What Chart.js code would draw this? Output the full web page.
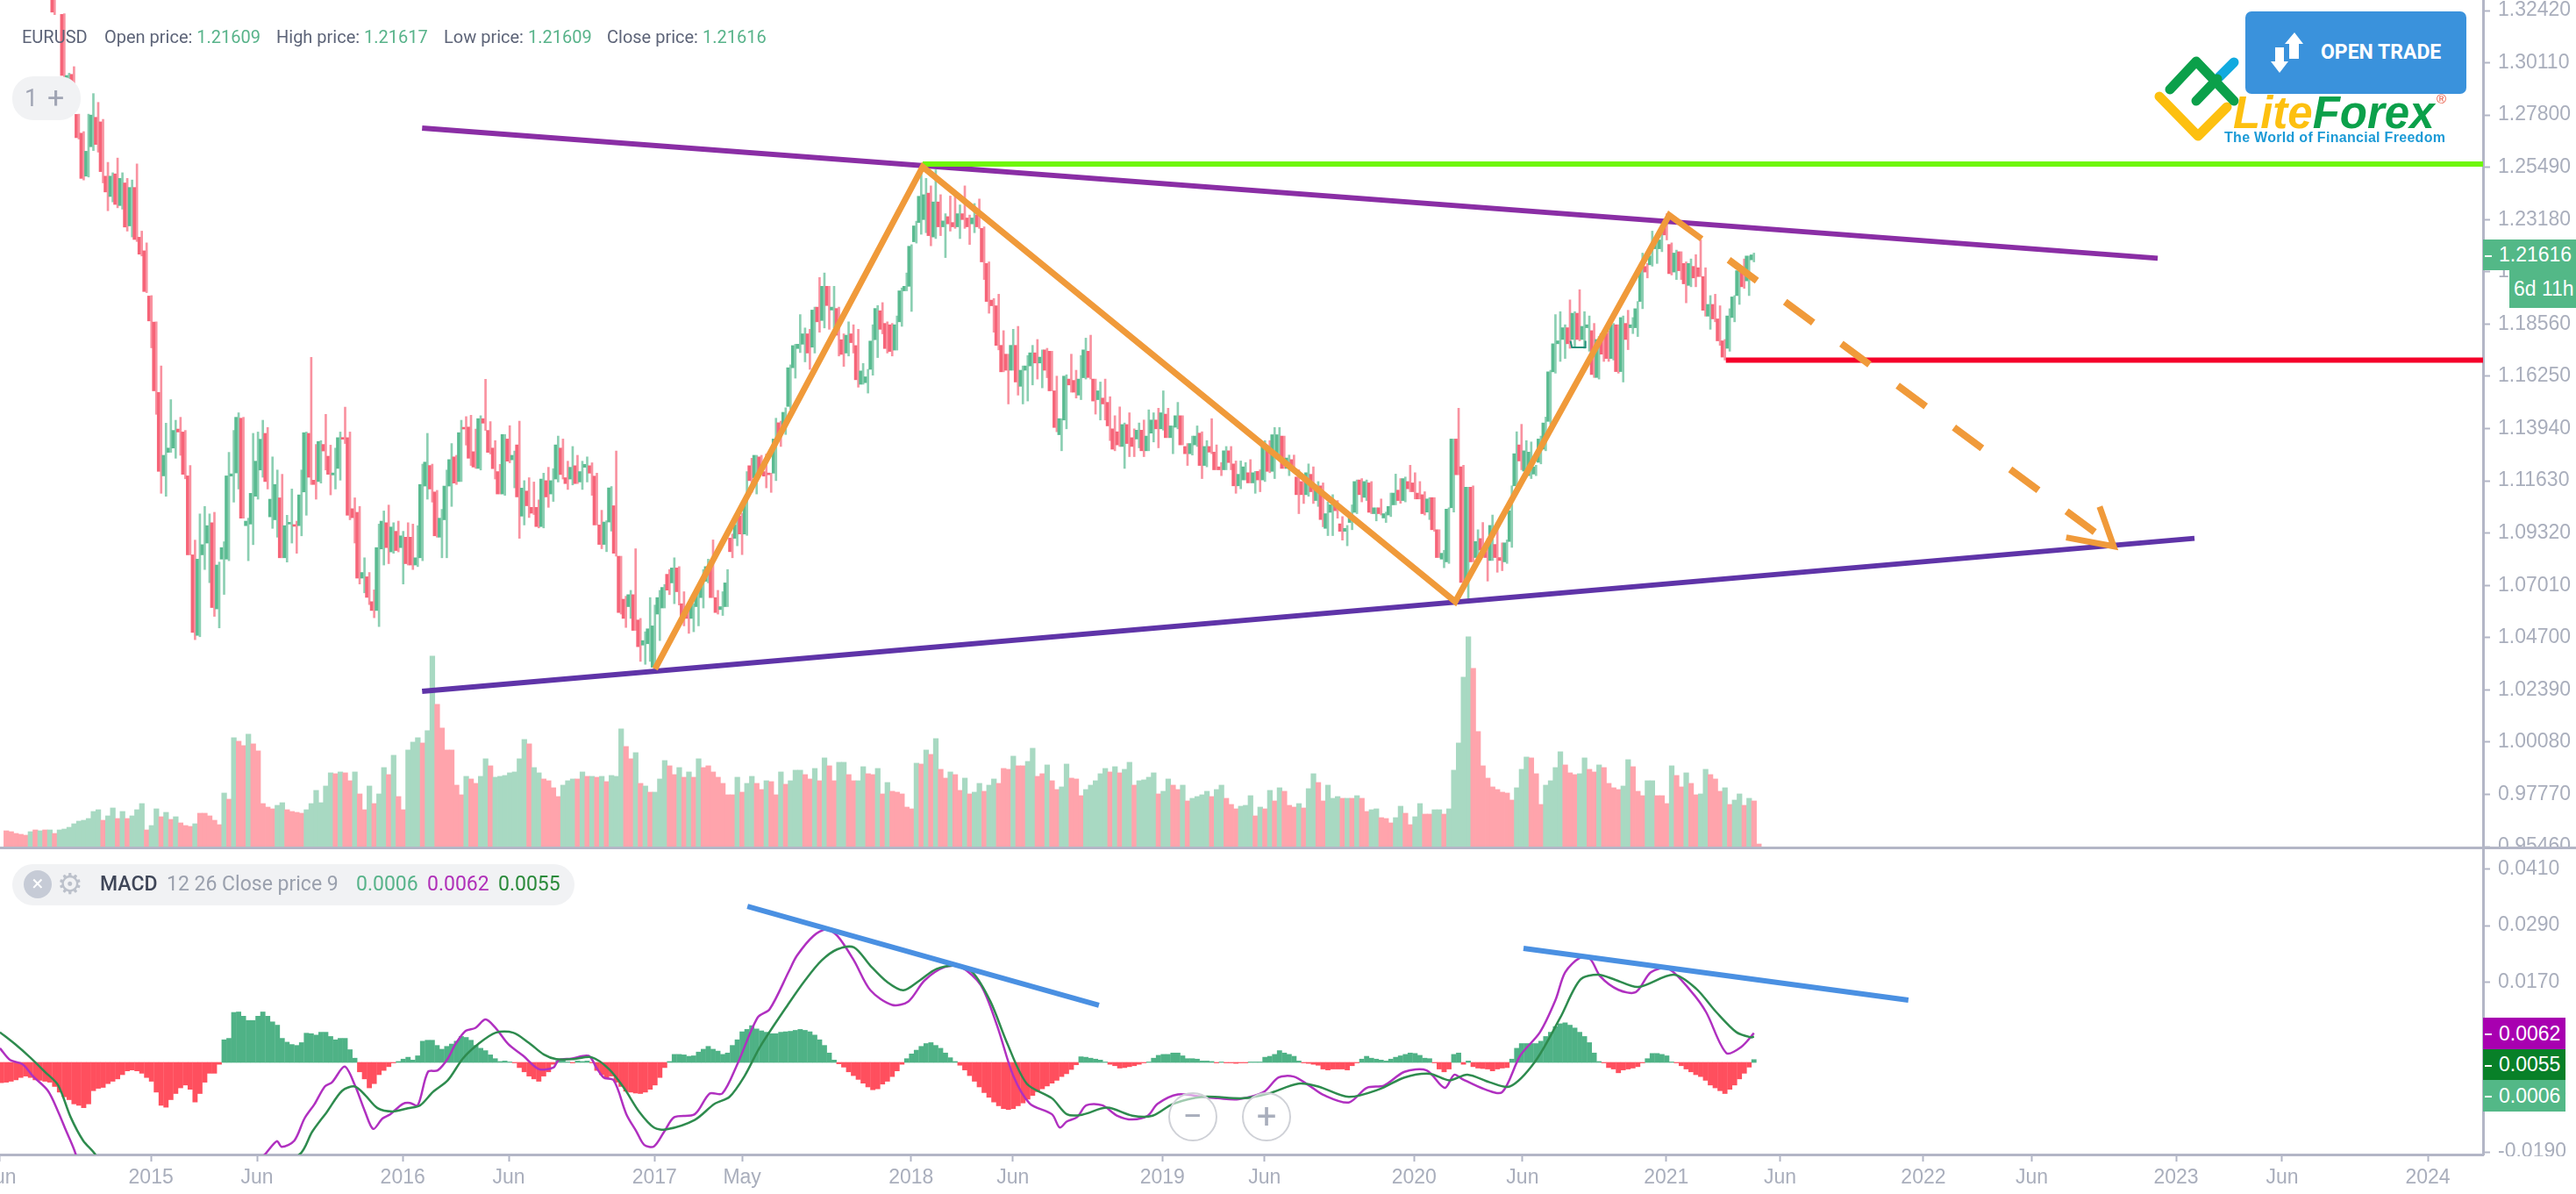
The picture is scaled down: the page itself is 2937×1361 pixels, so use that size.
<!DOCTYPE html>
<html lang="en">
<head>
<meta charset="UTF-8" />
<title>EURUSD weekly</title>
<script src="https://cdn.jsdelivr.net/npm/chart.js@4/dist/chart.umd.min.js"></script>
<style>
    html, body { margin: 0; padding: 0; background: #fff; overflow: hidden; }
    body { position: relative; width: 2937px; height: 1361px; font-family: Roboto, sans-serif; }
    canvas { position: absolute; left: 0; }
    .abs { position: absolute; white-space: nowrap; }
    .head { top: 29px; font-size: 20px; line-height: 26px; color: #5d6478; }
    .val { color: #58b38a; }
    .pill { background: #f1f2f4; border-radius: 24px; }
    .macd { top: 994px; font-size: 23px; line-height: 28px; }
    .tag { color: #fff; font-family: "Liberation Sans", sans-serif; font-size: 23px; box-sizing: border-box; padding-left: 18px; }
    .tag::before { content: ""; position: absolute; left: 2px; top: 50%; width: 8px; height: 2px; background: #fff; }
    .zoomBtn { width: 56px; height: 56px; border-radius: 50%; border: 2px solid #cfd1d7; background: rgba(255,255,255,.55); color: #a9aebc; font-size: 40px; line-height: 52px; text-align: center; box-sizing: border-box; }
</style>
</head>
<body>
<canvas id="priceChart" width="2937" height="967" style="top:0"></canvas>
<canvas id="macdChart" width="2937" height="395" style="top:966px"></canvas>

<div class="abs" style="left:0;top:965px;width:2937px;height:3px;background:#b3b6c6"></div>
<div class="abs" style="left:2834px;top:1318px;width:103px;height:43px;background:#fff"></div>

<div class="abs head" style="left:25px">EURUSD</div>
<div class="abs head" style="left:119px">Open price: <span class="val">1.21609</span></div>
<div class="abs head" style="left:315px">High price: <span class="val">1.21617</span></div>
<div class="abs head" style="left:506px">Low price: <span class="val">1.21609</span></div>
<div class="abs head" style="left:692px">Close price: <span class="val">1.21616</span></div>

<div class="abs pill" style="left:14px;top:87px;width:78px;height:50px"></div>
<div class="abs" style="left:28px;top:95px;font-size:27px;line-height:34px;color:#a0a5b4">1</div>
<div class="abs" style="left:54px;top:91px;font-size:34px;line-height:40px;color:#a0a5b4">+</div>

<div class="abs pill" style="left:14px;top:985px;width:641px;height:47px"></div>
<div class="abs" style="left:27px;top:992px;width:32px;height:32px;border-radius:50%;background:#c6cbd6;color:#fff;font-size:24px;line-height:31px;text-align:center">×</div>
<div class="abs" style="left:65px;top:988px;font-family:'DejaVu Sans';font-size:33px;line-height:40px;color:#bcc1cb">⚙</div>
<div class="abs macd" style="left:114px;color:#3f4658;font-weight:500">MACD</div>
<div class="abs macd" style="left:190px;color:#9aa0ad">12 26 Close price 9</div>
<div class="abs macd" style="left:406px;color:#58b38a">0.0006</div>
<div class="abs macd" style="left:487px;color:#b030b8">0.0062</div>
<div class="abs macd" style="left:568px;color:#2a8a3a">0.0055</div>

<div class="abs zoomBtn" style="left:1332px;top:1245px">−</div>
<div class="abs zoomBtn" style="left:1416px;top:1245px">+</div>

<div class="abs tag" style="left:2831px;top:273px;width:106px;height:35px;background:#53b887;line-height:35px">1.21616</div>
<div class="abs" style="left:2861px;top:308px;width:76px;height:43px;background:#53b887;color:#fff;font-family:'Liberation Sans';font-size:23px;line-height:43px;padding-left:5px;box-sizing:border-box">6d 11h</div>
<div class="abs tag" style="left:2831px;top:1160px;width:94px;height:36px;background:#a800b0;line-height:36px">0.0062</div>
<div class="abs tag" style="left:2831px;top:1196px;width:94px;height:35px;background:#088028;line-height:35px">0.0055</div>
<div class="abs tag" style="left:2831px;top:1231px;width:94px;height:36px;background:#53b887;line-height:36px">0.0006</div>

<div class="abs" style="left:2560px;top:13px;width:252px;height:94px;background:#3a92dc;border-radius:7px"></div>
<div class="abs" style="left:2646px;top:46px;color:#fff;font-size:23px;line-height:28px;font-weight:700">OPEN TRADE</div>
<svg class="abs" style="left:2450px;top:30px" width="190" height="135" viewBox="2450 30 190 135">
    <polygon fill="#fff" points="2616,37 2626,50 2621,50 2621,67 2610,67 2610,50 2605,50"/>
    <polygon fill="#fff" points="2599,83 2589,70 2594,70 2594,54 2604,54 2604,70 2609,70"/>
    <g fill="none" stroke-width="11" stroke-linecap="round" stroke-linejoin="round">
        <polyline stroke="#fdc010" points="2462,110 2506,155 2539,122"/>
        <polyline stroke="#12aadf" points="2530,88 2547,71"/>
        <polyline stroke="#0ba04a" points="2474,102 2504,70 2547,115"/>
        <polyline stroke="#0ba04a" points="2504,115 2528,90"/>
    </g>
</svg>
<div class="abs" style="left:2546px;top:100px;font-family:'Liberation Sans';font-style:italic;font-weight:700;font-size:51px;line-height:58px;color:#fdc010">Lite<span style="color:#0ba04a">Forex</span></div>
<div class="abs" style="left:2778px;top:104px;font-family:'Liberation Sans';font-size:15px;line-height:18px;color:#e8503a">®</div>
<div class="abs" style="left:2536px;top:148px;font-family:'Liberation Sans';font-weight:700;font-size:16px;line-height:18px;letter-spacing:.3px;color:#1b9ad6">The World of Financial Freedom</div>

<script>
// weekly bars, x is the bar number, ticks fall between bars
const xTicks = [-1.3, 29.9, 51.8, 81.9, 103.8, 133.9, 152, 186.9, 207.9, 238.8, 259.9, 290.8, 313.2, 342.9, 366.4, 396, 418.4, 448.2, 470.1, 500.2];
const xLabels = ['Jun', '2015', 'Jun', '2016', 'Jun', '2017', 'May', '2018', 'Jun', '2019', 'Jun', '2020', 'Jun', '2021', 'Jun', '2022', 'Jun', '2023', 'Jun', '2024'];
const priceTicks = [1.3242, 1.3011, 1.278, 1.2549, 1.2318, 1.2087, 1.1856, 1.1625, 1.1394, 1.1163, 1.0932, 1.0701, 1.047, 1.0239, 1.0008, 0.9777, 0.9546];
const macdTicks = [0.041, 0.029, 0.017, 0.005, -0.007, -0.019];

// open, high, low, close
const candles = [
    [1.342,1.344,1.337,1.339],[1.339,1.341,1.336,1.337],[1.337,1.339,1.334,1.335],[1.336,1.338,1.334,1.335],[1.335,1.338,1.334,1.337],
    [1.338,1.339,1.335,1.336],[1.336,1.338,1.335,1.337],[1.337,1.338,1.335,1.336],[1.336,1.338,1.335,1.337],[1.336,1.337,1.333,1.334],
    [1.33,1.333,1.3224,1.3235],[1.3345,1.336,1.33,1.331],[1.3225,1.3228,1.294,1.2955],[1.2945,1.2965,1.294,1.2955],[1.296,1.2994,1.284,1.286],
    [1.2783,1.2784,1.2674,1.268],[1.27,1.2707,1.2493,1.25],[1.251,1.2784,1.2506,1.262],[1.264,1.2875,1.2623,1.278],[1.277,1.2836,1.2616,1.265],
    [1.275,1.2761,1.248,1.253],[1.251,1.2571,1.2357,1.244],[1.242,1.2525,1.2396,1.251],[1.252,1.259,1.237,1.2385],[1.238,1.2525,1.2364,1.25],
    [1.248,1.25,1.2267,1.2285],[1.229,1.2493,1.2241,1.246],[1.246,1.2564,1.2221,1.223],[1.224,1.2267,1.2157,1.2165],[1.218,1.2215,1.1995,1.2],
    [1.198,1.1982,1.1751,1.187],[1.1865,1.1866,1.1457,1.1561],[1.1554,1.1671,1.1108,1.1205],[1.1185,1.1418,1.1095,1.1276],[1.1289,1.1522,1.1289,1.1308],
    [1.1308,1.1431,1.1263,1.1386],[1.1392,1.1444,1.1276,1.1379],[1.1379,1.1386,1.1172,1.1192],[1.1185,1.1231,1.0836,1.0836],[1.0836,1.0901,1.0461,1.0493],
    [1.048,1.1017,1.0474,1.0817],[1.0836,1.105,1.0771,1.0881],[1.0888,1.1017,1.0713,1.0965],[1.0978,1.1024,1.0564,1.0603],[1.0597,1.0804,1.0513,1.0791],
    [1.0817,1.0894,1.0661,1.0868],[1.0817,1.1289,1.081,1.1185],[1.1184,1.1386,1.1069,1.1194],[1.1198,1.1464,1.1127,1.1444],[1.144,1.1444,1.0998,1.0998],
    [1.0965,1.0998,1.081,1.0985],[1.0972,1.1373,1.0881,1.1108],[1.1095,1.1379,1.1082,1.125],[1.1211,1.1431,1.1179,1.1347],[1.1373,1.1399,1.1127,1.116],
    [1.1004,1.1269,1.0953,1.1082],[1.0991,1.1211,1.0914,1.1147],[1.1088,1.1192,1.0823,1.0823],[1.0823,1.1011,1.0804,1.0965],[1.0972,1.1127,1.0888,1.0975],
    [1.0965,1.0985,1.0843,1.0962],[1.0965,1.1211,1.092,1.1101],[1.1114,1.1379,1.1011,1.1376],[1.1373,1.1709,1.1147,1.1179],[1.1166,1.1324,1.1082,1.1147],
    [1.116,1.1341,1.1153,1.1337],[1.1324,1.1457,1.1211,1.1295],[1.1272,1.1321,1.1101,1.1192],[1.1189,1.1308,1.1127,1.1198],[1.1218,1.1379,1.1166,1.1354],
    [1.1354,1.1489,1.1328,1.1347],[1.1354,1.1379,1.0991,1.1011],[1.104,1.1088,1.0888,1.1],[1.1024,1.105,1.0707,1.0733],[1.0733,1.0823,1.0668,1.0758],
    [1.0739,1.0758,1.0616,1.0648],[1.0629,1.0681,1.0558,1.059],[1.059,1.0972,1.0519,1.0868],[1.0862,1.103,1.0791,1.0985],[1.0978,1.1056,1.0797,1.0868],
    [1.0849,1.0978,1.0843,1.0959],[1.094,1.0985,1.0849,1.0855],[1.0868,1.094,1.0707,1.092],[1.0914,1.0978,1.0791,1.0797],[1.0914,1.0972,1.0771,1.0791],
    [1.0791,1.0965,1.0784,1.0823],[1.0823,1.1237,1.081,1.1147],[1.114,1.1373,1.1082,1.1246],[1.1231,1.1237,1.1069,1.1127],[1.1114,1.1121,1.0914,1.092],
    [1.0914,1.1037,1.0823,1.0998],[1.0991,1.1211,1.0823,1.114],[1.114,1.1328,1.105,1.1257],[1.1269,1.1276,1.1147,1.1153],[1.116,1.1431,1.116,1.1376],
    [1.1399,1.1447,1.1321,1.1392],[1.1401,1.1453,1.1231,1.1263],[1.1292,1.1392,1.1218,1.1224],[1.1218,1.1451,1.1211,1.1438],[1.1438,1.1612,1.1386,1.1418],
    [1.1386,1.1425,1.1282,1.1289],[1.1308,1.1341,1.1171,1.1217],[1.1204,1.1236,1.1105,1.1105],[1.1105,1.1368,1.1099,1.1368],[1.1348,1.1407,1.1243,1.125],
    [1.1256,1.1295,1.1132,1.1276],[1.1322,1.1427,1.0909,1.1092],[1.1007,1.1164,1.0968,1.1131],[1.1118,1.1177,1.1001,1.1053],[1.1046,1.1158,1.1014,1.102],
    [1.1046,1.1079,1.0955,1.0961],[1.0961,1.1197,1.0955,1.1171],[1.1164,1.1223,1.1046,1.1092],[1.1105,1.1217,1.1072,1.1164],[1.1171,1.1361,1.1158,1.1322],
    [1.1308,1.1348,1.1171,1.1191],[1.1177,1.125,1.1125,1.1151],[1.1171,1.1315,1.1145,1.1223],[1.123,1.1276,1.1151,1.1151],[1.1158,1.125,1.1125,1.1204],
    [1.1223,1.1269,1.1158,1.1236],[1.123,1.1243,1.1099,1.1197],[1.1184,1.1197,1.0968,1.0968],[1.0968,1.1033,1.0863,1.0882],[1.0882,1.0987,1.085,1.0981],
    [1.0981,1.1138,1.0941,1.1132],[1.1053,1.1295,1.083,1.0843],[1.083,1.083,1.0574,1.0581],[1.064,1.0653,1.0515,1.0555],[1.0607,1.0679,1.0555,1.066],
    [1.066,1.0863,1.0502,1.0502],[1.0548,1.0555,1.0365,1.043],[1.0437,1.0496,1.0352,1.0457],[1.0443,1.0647,1.0365,1.0509],[1.0339,1.0614,1.0339,1.0522],
    [1.0574,1.0679,1.0457,1.0647],[1.0601,1.0705,1.0601,1.0692],[1.075,1.0771,1.066,1.068],[1.0712,1.0823,1.062,1.0778],[1.0778,1.0784,1.0614,1.0673],
    [1.062,1.0673,1.0522,1.0555],[1.0607,1.0614,1.0489,1.0555],[1.0555,1.062,1.0496,1.0614],[1.0607,1.0666,1.0522,1.066],[1.0647,1.0771,1.0601,1.0712],
    [1.0719,1.0817,1.0712,1.0784],[1.0784,1.0902,1.0647,1.0647],[1.0647,1.0679,1.0574,1.0581],[1.0594,1.0673,1.0568,1.0607],[1.0607,1.0771,1.0607,1.0712],
    [1.091,1.0928,1.0823,1.085],[1.0909,1.1007,1.0876,1.0968],[1.1007,1.102,1.0837,1.0928],[1.0928,1.1204,1.0922,1.1059],[1.123,1.1263,1.1112,1.1164],
    [1.1177,1.1276,1.1105,1.1276],[1.1269,1.1276,1.1191,1.1204],[1.1204,1.1282,1.1132,1.1184],[1.1197,1.1197,1.1112,1.119],[1.1197,1.144,1.1164,1.1348],
    [1.142,1.1427,1.1315,1.1361],[1.14,1.1486,1.1368,1.1466],[1.1492,1.1676,1.1479,1.1663],[1.1663,1.1767,1.1617,1.1761],[1.1748,1.1898,1.173,1.1767],
    [1.1767,1.1839,1.1689,1.1813],[1.1813,1.1833,1.1656,1.1728],[1.1754,1.1931,1.1728,1.1918],[1.1931,1.2062,1.182,1.1866],[1.1872,1.2082,1.1839,1.2023],
    [1.2023,1.2023,1.1833,1.1938],[1.1918,1.2023,1.1839,1.1931],[1.1925,1.1931,1.1715,1.1807],[1.1787,1.1813,1.1669,1.1722],[1.1728,1.1866,1.1715,1.1807],
    [1.1813,1.1853,1.1728,1.1774],[1.1761,1.1833,1.1577,1.161],[1.159,1.1682,1.159,1.1649],[1.1597,1.1656,1.1551,1.1623],[1.1656,1.1853,1.163,1.1781],
    [1.1787,1.1938,1.1708,1.1925],[1.1915,1.1951,1.1813,1.1833],[1.1859,1.1866,1.1728,1.1748],[1.1853,1.1859,1.1715,1.1735],[1.1741,1.1892,1.1741,1.1853],
    [1.1866,1.2016,1.1846,1.2003],[1.2003,1.2082,1.2003,1.2023],[1.2023,1.2207,1.1912,1.22],[1.222,1.2311,1.2214,1.229],[1.2305,1.2538,1.2253,1.2421],
    [1.2318,1.25,1.226,1.2428],[1.2435,1.2467,1.2202,1.2247],[1.2241,1.2538,1.2234,1.2396],[1.2396,1.2428,1.2247,1.2286],[1.2286,1.2344,1.215,1.2312],
    [1.2331,1.2422,1.2267,1.2299],[1.2305,1.2422,1.2279,1.2286],[1.2286,1.2383,1.2234,1.2344],[1.2344,1.2467,1.2279,1.2318],[1.2325,1.2338,1.2208,1.2286],
    [1.2299,1.2389,1.226,1.2325],[1.2338,1.2409,1.2279,1.2286],[1.2279,1.2286,1.2053,1.2131],[1.2124,1.2131,1.1904,1.1956],[1.1962,1.1969,1.182,1.1937],
    [1.1937,1.1988,1.1742,1.1762],[1.1762,1.1827,1.1645,1.1645],[1.1723,1.1723,1.1503,1.1652],[1.1652,1.1833,1.1652,1.1762],[1.1762,1.1846,1.1542,1.16],
    [1.1581,1.1671,1.1503,1.1652],[1.1652,1.1717,1.1516,1.1671],[1.1671,1.1762,1.1587,1.1729],[1.1729,1.1788,1.1613,1.1684],[1.1684,1.1742,1.1574,1.171],
    [1.1742,1.1749,1.1619,1.1652],[1.1736,1.1736,1.1561,1.1561],[1.1561,1.1626,1.138,1.1399],[1.1367,1.1438,1.1296,1.1438],[1.1432,1.1632,1.1393,1.1626],
    [1.1613,1.1723,1.1555,1.1587],[1.1607,1.1652,1.1529,1.1555],[1.1542,1.1717,1.1522,1.1613],[1.1619,1.1794,1.1613,1.1742],[1.1736,1.1807,1.1613,1.162],
    [1.1613,1.1613,1.1458,1.1516],[1.1522,1.16,1.1432,1.1561],[1.1529,1.1613,1.1432,1.1503],[1.151,1.1535,1.1341,1.1406],[1.1393,1.1451,1.1296,1.1303],
    [1.138,1.149,1.1315,1.1322],[1.1315,1.1419,1.1218,1.1412],[1.1412,1.1464,1.127,1.1328],[1.1354,1.1393,1.127,1.1315],[1.1348,1.1419,1.1309,1.1387],
    [1.1387,1.1432,1.127,1.1296],[1.1296,1.1477,1.1296,1.1361],[1.1374,1.1464,1.1335,1.1432],[1.1432,1.1484,1.1309,1.1393],[1.1393,1.1561,1.1387,1.1464],
    [1.1458,1.1484,1.1354,1.1354],[1.1354,1.1406,1.1283,1.1406],[1.14,1.151,1.1393,1.1451],[1.1451,1.1451,1.1322,1.1322],[1.1315,1.1328,1.1231,1.1283],
    [1.1283,1.1361,1.1277,1.1328],[1.1322,1.1406,1.1315,1.1361],[1.1374,1.138,1.1173,1.1231],[1.1231,1.1341,1.1225,1.1315],[1.1315,1.1438,1.1283,1.129],
    [1.129,1.1322,1.1212,1.1212],[1.1225,1.1244,1.1186,1.1212],[1.1212,1.1315,1.1212,1.1296],[1.1296,1.1315,1.1212,1.1244],[1.1238,1.1251,1.1108,1.1141],
    [1.1141,1.1251,1.1128,1.1192],[1.1167,1.1244,1.1167,1.1225],[1.1199,1.1257,1.1154,1.1154],[1.1154,1.1205,1.1108,1.1199],[1.1205,1.1212,1.1115,1.1167],
    [1.1167,1.1341,1.116,1.1335],[1.1296,1.1341,1.1199,1.1205],[1.1205,1.1399,1.1173,1.1367],[1.127,1.1399,1.1264,1.1367],[1.1361,1.1361,1.1218,1.1218],
    [1.1218,1.1277,1.1186,1.1264],[1.1257,1.1277,1.1199,1.1212],[1.118,1.1212,1.1018,1.1102],[1.116,1.1167,1.1063,1.1102],[1.1102,1.1238,1.1095,1.1199],
    [1.1192,1.1225,1.1063,1.1115],[1.1076,1.116,1.105,1.1141],[1.1141,1.1154,1.096,1.0992],[1.0953,1.107,1.0921,1.1018],[1.1024,1.1102,1.0921,1.1057],
    [1.1063,1.1076,1.0998,1.1031],[1.0973,1.1005,1.0901,1.094],[1.094,1.0966,1.0876,1.0953],[1.0979,1.1057,1.0947,1.1018],[1.1024,1.1167,1.1018,1.116],
    [1.1167,1.1173,1.107,1.1102],[1.109,1.1167,1.1076,1.116],[1.1154,1.116,1.1018,1.1024],[1.1018,1.1044,1.0986,1.1044],[1.1044,1.1083,1.1012,1.1018],
    [1.0999,1.1025,1.0979,1.1018],[1.1012,1.1109,1.1005,1.105],[1.1057,1.1193,1.1057,1.1109],[1.1122,1.1173,1.1064,1.1076],[1.1076,1.118,1.107,1.1173],
    [1.116,1.1232,1.1115,1.1128],[1.1154,1.1199,1.1083,1.1115],[1.1109,1.116,1.1083,1.1083],[1.1102,1.1115,1.1012,1.1018],[1.1025,1.1089,1.0992,1.1083],
    [1.1089,1.1089,1.094,1.0947],[1.0947,1.0947,1.0824,1.0824],[1.0817,1.0856,1.0779,1.0843],[1.0805,1.1044,1.0798,1.1038],[1.1044,1.1348,1.1025,1.1348],
    [1.1348,1.1484,1.119,1.119],[1.1225,1.1232,1.0714,1.0714],[1.0701,1.1135,1.0643,1.1135],[1.1135,1.1141,1.0805,1.0805],[1.0824,1.0947,1.0798,1.0895],
    [1.0908,1.0979,1.085,1.0857],[1.085,1.0908,1.072,1.0824],[1.0811,1.1012,1.0811,1.0966],[1.0882,1.0953,1.0759,1.0824],[1.0824,1.0889,1.0766,1.0811],
    [1.0805,1.0902,1.0798,1.0889],[1.0895,1.1141,1.0869,1.1031],[1.1141,1.138,1.1128,1.1283],[1.1322,1.1413,1.1212,1.1251],[1.1206,1.1341,1.118,1.1296],
    [1.1186,1.1335,1.1173,1.129],[1.1193,1.1232,1.1186,1.1225],[1.1245,1.1361,1.1238,1.1348],[1.1303,1.1445,1.1296,1.1419],[1.1426,1.1652,1.1413,1.1645],
    [1.1645,1.1898,1.1639,1.1769],[1.1769,1.1911,1.1691,1.1782],[1.1788,1.1853,1.1704,1.184],[1.184,1.1963,1.1749,1.1769],[1.1788,1.1911,1.1756,1.1904],
    [1.1904,1.2008,1.1782,1.1788],[1.1788,1.1911,1.1749,1.1846],[1.184,1.1892,1.1736,1.1853],[1.1827,1.1859,1.162,1.1633],[1.162,1.1801,1.1613,1.1788],
    [1.1814,1.1827,1.1691,1.1723],[1.1814,1.1827,1.1691,1.1704],[1.1704,1.1859,1.1697,1.1853],[1.1853,1.1853,1.1639,1.1646],[1.1646,1.1892,1.16,1.1885],
    [1.1859,1.1917,1.1743,1.1788],[1.184,1.1885,1.1814,1.1853],[1.184,1.1956,1.1801,1.1924],[1.1956,1.217,1.1924,1.2092],[1.2111,1.2124,1.206,1.2086],
    [1.2118,1.2267,1.2112,1.2157],[1.2189,1.2241,1.2124,1.2221],[1.2189,1.2267,1.2176,1.2228],[1.232,1.2344,1.2228,1.225],[1.2208,1.2215,1.2073,1.2079],
    [1.2086,1.2183,1.2053,1.217],[1.2176,1.2176,1.2053,1.2092],[1.2124,1.2131,1.195,1.2034],[1.2027,1.2144,1.2021,1.2124],[1.2111,1.2163,1.2021,1.206],
    [1.2105,1.2228,1.2066,1.2066],[1.2066,1.2105,1.1891,1.1917],[1.1891,1.1982,1.1833,1.1943],[1.1943,1.1988,1.1866,1.1879],[1.1879,1.1937,1.1762,1.1782],
    [1.1782,1.1788,1.1697,1.171],[1.1749,1.1924,1.1736,1.1892],[1.1885,1.1982,1.1866,1.1976],[1.1982,1.2099,1.1943,1.2092],[1.2086,1.2144,1.2014,1.2021],
    [1.2047,1.2157,1.1982,1.2157],[1.214,1.217,1.2131,1.2162]
];

// tick volume per week, negative means a down bar, first entry sits at the left edge
const volumes = [
    -20,-19,-17,-16,-15,19,-21,20,-21,21,-17, 21,22,24,28,31,32,34,42,44,-32,
    37,46,-34,42,-34,37,44,51,-21,26, 45,-36,41,-33,36,-29,-26,-25,28,-40,
    -40,-37,-32,-27,63,-56,126,-122,-117,130, -119,-111,-51,-47,-45,49,52,-44,-42,-41,
    -40,44,51,66,52,71,86,-85,87,-86, -77,87,-62,-44,71,-51,62,92,-84,106,
    -59,-44,112,121,126,-120,134,219,-164,-137, -112,-112,-72,-61,82,-79,-74,82,102,-94,
    81,82,83,86,87,102,124,-119,92,86, -79,-77,-69,-59,72,77,79,-79,87,-82,
    82,-81,82,-76,83,82,136,-116,-102,109, -74,71,-64,64,79,100,-94,-84,92,-81,
    87,-81,102,-92,-94,-87,-81,-74,-61,-61, 81,-64,74,82,-74,-67,77,-76,-61,87,
    -73,77,89,89,-84,-79,91,-77,103,-94, -77,98,98,-84,-77,77,93,-85,-84,91,
    -62,75,-65,-64,-62,-47,-45,97,-96,112, -107,125,-90,-80,87,-84,-66,80,-62,64,
    74,-65,72,79,-74,-91,-90,105,-94,-94, 99,114,-82,-85,95,-77,-67,70,96,-80,
    -79,-60,67,72,77,85,91,-87,93,-86, 90,98,-72,77,78,81,86,-62,65,79,
    -72,-67,72,-54,57,59,61,65,-59,67, 72,-57,-50,-45,48,49,60,-37,47,-45,
    66,-54,69,-65,-49,-47,51,-46,68,85, -75,-54,72,57,59,-57,57,-57,60,-57,
    -42,44,45,-35,-34,-29,35,48,-40,-27, 36,51,-39,-39,44,44,-39,45,89,120,
    195,241,-205,-133,-94,-80,-70,-67,-64,-63, -55,69,90,104,-103,-85,-50,72,77,92,
    110,-95,-86,-84,85,103,-90,-87,95,-92, -74,-69,-67,71,101,-93,-65,-60,77,77,
    -60,-60,-51,94,-83,-70,86,-74,-61,62, 90,-84,-79,-65,69,-50,55,62,-49,57,
    -54,-5
];

const macdHist = [
    -.0043,-.0042,-.004,-.0037,-.0032,-.0029,-.0032,-.0037,-.0038,-.004,-.0042, -.0051,-.0063,-.0073,-.0079,-.0088,-.0091,-.0096,-.0088,-.006,-.0055,
    -.0053,-.0045,-.004,-.0035,-.0026,-.0018,-.0016,-.0018,-.0023,-.0032, -.004,-.0063,-.0091,-.0095,-.0079,-.0066,-.0054,-.0048,-.0057,-.0084,
    -.0066,-.0042,-.0023,-.0023,-.0004,.0048,.0051,.0106,.0107,.0098, .0089,.0089,.0098,.0107,.0098,.0086,.0079,.0051,.0043,.0038,
    .0036,.0042,.0062,.0061,.0058,.0064,.0064,.0055,.0048,.0051, .0051,.0027,.0009,-.002,-.0035,-.0054,-.0045,-.0026,-.0017,-.0009,
    -.0001,.0002,.0007,.0011,.0005,.0014,.0045,.0047,.0047,.0036, .0028,.0034,.0039,.0045,.0055,.0053,.0047,.0036,.003,.0025,
    .0016,.0008,.0002,.0003,.0001,-.0001,-.0011,-.002,-.0029,-.0035, -.004,-.0029,-.002,-.0004,.0004,.0007,.0001,-.0001,.0003,.0002,
    .0003,-.0001,-.0017,-.0026,-.0035,-.0029,-.0042,-.0051,-.0061,-.0063, -.0065,-.0066,-.0063,-.0057,-.0048,-.0032,-.0011,.0002,.0017,.0017,
    .0016,.0013,.0014,.0022,.0028,.0034,.0028,.0024,.0017,.002, .0036,.0048,.0065,.007,.0078,.0071,.0067,.0064,.0061,.0061,
    .0064,.0065,.0066,.0068,.007,.0068,.0065,.0058,.0048,.0036, .002,.0005,-.0003,-.001,-.002,-.0028,-.0036,-.0044,-.0052,-.0058,
    -.0056,-.0046,-.004,-.003,-.0018,-.0004,.0008,.0018,.0026,.0034, .004,.0042,.0036,.003,.002,.001,.0002,-.0006,-.0016,-.0028,
    -.004,-.0052,-.0064,-.0074,-.0084,-.0092,-.0098,-.01,-.0098,-.0092, -.0086,-.0078,-.007,-.0062,-.0056,-.005,-.0044,-.0038,-.003,-.0024,
    -.0015,-.0005,.0012,.0011,.0009,.0007,.0005,.0001,-.0004,-.0007, -.0012,-.0011,-.0009,-.0007,-.0004,-.0001,.0001,.0009,.0015,.0017,
    .0017,.002,.002,.0014,.0008,.0008,.0007,.0003,.0003,.0002, -.0001,.0001,-.0001,-.0001,-.0002,-.0001,-.0001,.0001,.0001,.0001,
    .0011,.0013,.0017,.0025,.002,.0017,.0013,.0003,-.0001,-.0002, -.0004,-.0006,-.0014,-.0016,-.0014,-.0014,-.0014,-.0016,-.0007,-.0001,
    .0007,.0013,.0009,.0007,.0005,.0003,.0007,.0011,.0014,.0017, .002,.0019,.0015,.0009,.0008,-.0001,-.0014,-.002,-.0014,.0017,
    .002,-.0004,.0003,-.0009,-.0012,-.0013,-.0014,-.0018,-.0014,-.0012, -.0011,.0007,.003,.004,.004,.004,.004,.0045,.0055,.0064,
    .0076,.0082,.0084,.0079,.0073,.0064,.0055,.0042,.002,.0002, -.0001,-.0011,-.0014,-.0022,-.0016,-.0014,-.0012,-.0009,-.0001,.0008,
    .0019,.0019,.0017,.0014,.0001,-.0001,-.0007,-.0014,-.002,-.0026, -.003,-.0038,-.0048,-.0054,-.006,-.0066,-.0057,-.0048,-.0035,-.0023,
    -.001,.0006
];

// bar number, value
const macdLine = [
    [-1.3,.003],[.8,.0005],[3.4,-.0004],[5.5,-.0029],[8.6,-.006],[10.7,-.0104],[12.2,-.0141],[14.3,-.0193],[19.5,-.0383],[29.9,-.0445],
    [53.6,-.0193],[55.9,-.0167],[56.9,-.0179],[59.5,-.0166],[61.6,-.0119],[63.7,-.0088],[65.8,-.0051],[67.3,-.0042],[69.9,-.0009],[72,-.0048],
    [74.1,-.0104],[75.8,-.0141],[77.7,-.0119],[79.3,-.011],[81.9,-.0088],[83.4,-.0086],[85,-.0091],[87.1,-.002],[89.1,-.0017],[91.2,.0008],
    [92.8,.0039],[94.9,.0067],[96.9,.0073],[99,.0091],[101.1,.0073],[103.7,.0039],[106.8,.0014],[110,-.0014],[113,-.0011],[114.1,.0005],
    [116.7,.0008],[120.3,.0014],[121.9,-.0011],[123.4,-.0032],[125.5,-.0038],[128.1,-.011],[130.2,-.0147],[131.8,-.0175],[133.8,-.0178],[135.9,-.0147],
    [138,-.0116],[142.2,-.011],[145.3,-.0066],[147.9,-.0066],[151,-.0004],[155.2,.0095],[157.7,.0113],[161.7,.0194],[163.3,.0226],[166.7,.0268],
    [169.4,.0282],[171.7,.0268],[175.1,.0216],[178.5,.0153],[183,.0122],[186.3,.0129],[189.7,.0174],[193.8,.0202],[197.2,.0202],[201.3,.0164],
    [204.7,.0077],[208,-.0028],[211.4,-.0087],[216,-.011],[217.6,-.0138],[219.1,-.0125],[221.2,-.0116],[223.1,-.0091],[226.4,-.0091],[229.5,-.0113],
    [232.6,-.0121],[235.8,-.0113],[237.8,-.0088],[242,-.0068],[247.2,-.0073],[250.3,-.0076],[254.5,-.0078],[259.7,-.0063],[262.8,-.0032],[265.9,-.003],
    [269,-.0048],[272.1,-.0069],[277.3,-.0085],[281,-.0054],[284.6,-.0049],[288.8,-.002],[293.4,-.0017],[297.1,-.0054],[299.1,-.0026],[300.7,-.0035],
    [305.4,-.0057],[309,-.0063],[312.7,.0014],[316.8,.0064],[320,.0132],[322,.0191],[325.1,.0222],[327.2,.0219],[329.3,.0182],[333,.0154],
    [336.6,.0149],[339.7,.0191],[343.3,.0199],[348,.0151],[351.1,.0107],[355.3,.002],[358.4,.0033],[361,.0062]
];
const signalLine = [
    [-1.3,.0064],[1.8,.0039],[4.9,.0011],[8,-.002],[10.7,-.0048],[13.3,-.0116],[15.9,-.0166],[18.5,-.0197],[29.9,-.0414],[60.6,-.0195],
    [63.2,-.0147],[66.3,-.0104],[69.4,-.006],[72,-.0051],[74.1,-.0069],[76.7,-.0097],[79.8,-.0104],[83,-.0097],[85.5,-.0091],[88.1,-.0063],
    [91.2,-.0038],[94.3,.0008],[97.5,.0039],[101.1,.0063],[104.7,.0063],[107.9,.0042],[111,.0017],[113.6,.0007],[117.2,.0007],[120.9,.0011],
    [124.5,-.0014],[127.6,-.0054],[130.7,-.0104],[133.8,-.0138],[136.4,-.0142],[142.2,-.0122],[146.3,-.0088],[149.4,-.0073],[152.5,-.0029],[155.7,.0033],
    [161.7,.0126],[165,.0174],[168.4,.0216],[171.7,.024],[175.1,.0244],[178.5,.0205],[181.9,.0171],[185.3,.0153],[188.7,.0174],[192.1,.0198],
    [196.2,.0205],[199.6,.0191],[203.3,.0129],[206.7,.0042],[210.8,-.0045],[216,-.0076],[219.1,-.011],[222.2,-.0111],[227.4,-.0096],[232.6,-.0113],
    [236.8,-.0113],[241,-.0088],[247.2,-.0073],[255.5,-.0076],[260.7,-.0066],[266.9,-.0045],[271,-.0051],[277.3,-.0073],[283.6,-.0057],[288.8,-.0032],
    [294,-.0024],[298.1,-.0038],[301.8,-.0026],[306.4,-.0042],[310.6,-.0051],[315.8,.0002],[321,.0095],[325.1,.0175],[328.8,.0186],[332.4,.0175],
    [337.1,.016],[344.4,.0186],[349,.0157],[353.2,.0107],[357.4,.0064],[360.5,.0053],[361,.0055]
];

// hand drawn lines on the chart, in bar number and price
const upperTrend = [[85.9,1.2722],[444.4,1.2147]];
const lowerTrend = [[85.9,1.0233],[452,1.0909]];
const orangeZigzag = [[134,1.0331],[189.3,1.2551],[299.3,1.0629],[343.5,1.2338],[350.2,1.2233]];
const orangeForecast = [[355.8,1.214],[435.3,1.0874]];
const arrowHead = [[425.5,1.0913],[435.3,1.0874],[432.4,1.1049]];
const greenLevel = [[189.3,1.2563],[511.6,1.2563]];
const redLevel = [[355.2,1.1697],[511.6,1.1697]];
const smallBox = [[323.1,1.1782],[323.4,1.1753],[326.2,1.1753],[326.2,1.1782]];
const macdDiverge1 = [[153.1,.0331],[225.7,.0121]];
const macdDiverge2 = [[313.4,.0242],[392.9,.0132]];

const upColor = '#5abb91', downColor = '#f66478';
const axisColor = '#b3b6c6', labelColor = '#a9aebc';
const xMin = -1.29, xMax = 511.6;

function pts(list) {
    return list.map(function (p) { return { x: p[0], y: p[1] }; });
}
function drawnLine(list, color, width, order) {
    return { type: 'line', data: pts(list), borderColor: color, borderWidth: width, pointRadius: 0, order: order, yAxisID: 'y', tension: 0 };
}
function fixedAxisWidth(scale) {
    scale.width = 106;
    scale.paddingTop = 0;
    scale.paddingBottom = 0;
}
const axisFont = { family: 'Liberation Sans', size: 23 };

const wicks = candles.map(function (c, i) { return { x: i, y: [c[2], c[1]] }; });
const bodies = candles.map(function (c, i) { return { x: i, y: [Math.min(c[0], c[3]), Math.max(c[0], c[3])] }; });
const candleColors = candles.map(function (c) { return c[3] >= c[0] ? upColor : downColor; });
const wickColors = candles.map(function (c) { return c[3] >= c[0] ? 'rgba(90,187,145,.7)' : 'rgba(246,100,120,.7)'; });

new Chart(document.getElementById('priceChart'), {
    type: 'bar',
    data: {
        datasets: [
            drawnLine(arrowHead, '#f09a3a', 7, 1),
            Object.assign(drawnLine(orangeForecast, '#f09a3a', 8, 1), { borderDash: [40, 40] }),
            drawnLine(orangeZigzag, '#f09a3a', 7, 1),
            drawnLine(greenLevel, '#6ff70a', 6, 2),
            drawnLine(redLevel, '#f5002a', 6, 2),
            drawnLine(upperTrend, '#8a2ea5', 6, 3),
            drawnLine(lowerTrend, '#5f34a8', 6, 3),
            drawnLine(smallBox, '#20907a', 2, 3),
            { data: bodies, backgroundColor: candleColors, barThickness: 3, minBarLength: 2, order: 5, yAxisID: 'y' },
            { data: wicks, backgroundColor: wickColors, barThickness: 2, order: 6, yAxisID: 'y' },
            {
                data: volumes.map(function (v, i) { return { x: i - 1, y: Math.abs(v) }; }),
                backgroundColor: volumes.map(function (v) { return v >= 0 ? '#a8d9c2' : '#ffa4ac'; }),
                barThickness: 5.6, order: 9, yAxisID: 'vol'
            }
        ]
    },
    options: {
        responsive: false,
        animation: false,
        events: [],
        layout: { padding: 0 },
        plugins: { legend: { display: false }, tooltip: { enabled: false } },
        scales: {
            x: { type: 'linear', display: false, min: xMin, max: xMax, offset: false, grid: { offset: false } },
            y: {
                type: 'linear', position: 'right',
                min: 0.95386, max: 1.32886,
                afterFit: fixedAxisWidth,
                afterBuildTicks: function (s) { s.ticks = priceTicks.map(function (v) { return { value: v }; }); },
                border: { color: axisColor, width: 3 },
                grid: { drawOnChartArea: false, tickLength: 8, tickColor: axisColor, tickWidth: 2 },
                ticks: { autoSkip: false, padding: 9, color: labelColor, font: axisFont, callback: function (v) { return Number(v).toFixed(5); } }
            },
            vol: { type: 'linear', display: false, min: 0, max: 966 }
        }
    }
});

new Chart(document.getElementById('macdChart'), {
    type: 'bar',
    data: {
        datasets: [
            drawnLine(macdDiverge1, '#4a90e2', 6, 1),
            drawnLine(macdDiverge2, '#4a90e2', 6, 1),
            { type: 'line', data: pts(signalLine), borderColor: '#2e8b4e', borderWidth: 2.5, pointRadius: 0, tension: 0.3, order: 2, yAxisID: 'y' },
            { type: 'line', data: pts(macdLine), borderColor: '#b030c0', borderWidth: 2.5, pointRadius: 0, tension: 0.3, order: 3, yAxisID: 'y' },
            {
                data: macdHist.map(function (v, i) { return { x: i - 1, y: v }; }),
                backgroundColor: macdHist.map(function (v) { return v >= 0 ? '#4fb286' : '#ff4f5e'; }),
                barThickness: 5.2, order: 5, yAxisID: 'y'
            }
        ]
    },
    options: {
        responsive: false,
        animation: false,
        events: [],
        layout: { padding: 0 },
        plugins: { legend: { display: false }, tooltip: { enabled: false } },
        scales: {
            x: {
                type: 'linear', min: xMin, max: xMax, offset: false,
                afterFit: function (s) { s.height = 45; s.paddingLeft = 0; s.paddingRight = 0; },
                afterBuildTicks: function (s) { s.ticks = xTicks.map(function (v) { return { value: v }; }); },
                border: { color: axisColor, width: 3 },
                grid: { offset: false, drawOnChartArea: false, tickLength: 8, tickColor: axisColor, tickWidth: 2 },
                ticks: {
                    autoSkip: false, maxRotation: 0, padding: 5, color: labelColor, font: axisFont,
                    callback: function (v, i) { return xLabels[i]; }
                }
            },
            y: {
                type: 'linear', position: 'right',
                min: -0.01953, max: 0.04558,
                afterFit: fixedAxisWidth,
                afterBuildTicks: function (s) { s.ticks = macdTicks.map(function (v) { return { value: v }; }); },
                border: { color: axisColor, width: 3 },
                grid: { drawOnChartArea: false, tickLength: 8, tickColor: axisColor, tickWidth: 2 },
                ticks: { autoSkip: false, padding: 9, color: labelColor, font: axisFont, callback: function (v) { return Number(v).toFixed(4); } }
            }
        }
    }
});
</script>
</body>
</html>
